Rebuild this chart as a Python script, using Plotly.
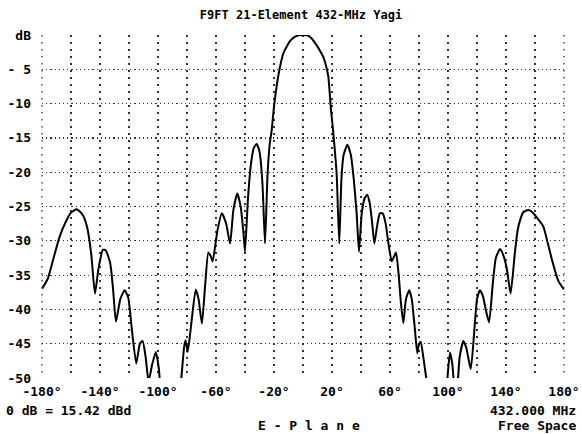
import plotly.graph_objects as go

# ---- data (angle in degrees, relative gain in dB) ----
angles = [
    -180, -176, -172, -168, -164, -160, -156, -152, -149, -146, -143.5, -141, -138, -136,
    -133, -131, -129, -126, -123, -120.5, -118, -115, -112.5, -110.6, -108.5, -106.5, -104,
    -101.5, -99.5, -98, -90, -85, -83.7, -82, -81, -79.5, -77, -74, -72, -69.7, -67.5,
    -65.3, -63.5, -62.3, -59, -56, -53, -50.3, -48, -45.3, -43, -41, -40, -38, -36, -34,
    -32, -30, -28, -26.2, -24.5, -23, -21.6, -20, -18, -16.3, -13.6, -11, -9, -6, -3, 0,
    3, 6, 9.4, 12, 14, 16, 17.5, 19.1, 20.9, 23.2, 25, 26.5, 28, 30.6, 33, 35, 37, 38.6,
    40.5, 42.5, 44.3, 46, 47.5, 49.2, 51, 53, 55, 57, 59, 61.2, 64.1, 66, 67.5, 69.2, 71,
    73.3, 75, 77, 78.8, 80, 81.2, 83, 85.3, 90, 98, 99.8, 101.4, 103, 104.8, 106.5, 108,
    110.6, 112.5, 115.7, 118, 120, 122, 124, 126, 128.3, 131, 133, 135.9, 138, 140.5,
    143.2, 146, 148, 150, 152, 155.4, 158, 162, 165.7, 169, 172, 176, 180,
]
gain_db = [
    -37.0, -35.5, -32.5, -29.5, -27.4, -25.9, -25.4, -26.2, -27.9, -32.0, -37.7, -34.0, -31.3, -31.4,
    -33.2, -37.0, -41.8, -38.5, -37.2, -38.3, -43.0, -47.9, -45.0, -44.6, -47.0, -50.5, -48.0,
    -46.2, -48.5, -52.0, -60.0, -52.0, -49.5, -45.5, -44.5, -46.2, -42.0, -37.1, -38.5, -42.1, -36.5,
    -31.7, -32.3, -33.0, -28.5, -26.0, -27.5, -30.4, -25.5, -23.1, -25.0, -29.0, -31.6, -24.0, -19.0, -16.5,
    -15.9, -17.0, -21.5, -30.4, -20.5, -16.0, -13.9, -10.4, -7.2, -5.1, -2.7, -1.6, -0.9, -0.3, -0.05, 0.0,
    -0.05, -0.5, -1.5, -2.4, -3.2, -4.6, -6.1, -10.4, -14.3, -20.2, -30.4, -21.0, -17.5, -16.0, -17.5, -21.0, -26.0, -31.6,
    -26.0, -23.8, -23.3, -24.5, -27.0, -30.4, -28.0, -26.0, -26.0, -27.5, -30.5, -33.0, -31.7, -35.0, -39.0, -42.0, -38.5,
    -37.2, -38.5, -42.5, -46.4, -45.0, -44.7, -47.0, -50.5, -58.0, -56.0, -49.5, -46.3, -48.0, -52.0, -51.0, -47.0,
    -44.6, -45.5, -48.7, -43.5, -38.5, -37.2, -38.0, -40.0, -41.9, -36.0, -32.5, -31.2, -32.0, -34.0,
    -37.7, -32.0, -28.5, -26.8, -25.8, -25.5, -25.8, -26.8, -27.9, -30.5, -33.0, -35.8, -37.1,
]

x_grid_vals = list(range(-180, 181, 20))
x_tick_labels = ["-180°", "", "-140°", "", "-100°", "", "-60°", "", "-20°", "",
                 "20°", "", "60°", "", "100°", "", "140°", "", "180°"]
y_grid_vals = list(range(0, -51, -5))
y_tick_labels = ["dB", "- 5", "-10", "-15", "-20", "-25", "-30", "-35", "-40", "-45", "-50"]

title_text = "F9FT 21-Element 432-MHz Yagi"
ref_text = "0 dB = 15.42 dBd"
freq_text = "432.000 MHz"
plane_text = "E - P l a n e"
env_text = "Free Space"

FONT = dict(family="DejaVu Sans Mono", size=13, color="black", weight="bold")
VGRID = dict(color="#333", width=1.3, dash="1.5px,5.5px")

fig = go.Figure()
fig.add_trace(go.Scatter(
    x=angles, y=gain_db, mode="lines",
    line=dict(color="black", width=2, shape="spline", smoothing=0.5),
    hoverinfo="skip", showlegend=False,
))

fig.update_layout(
    width=582, height=434,
    margin=dict(l=42, r=18, t=35, b=56, autoexpand=False),
    paper_bgcolor="white", plot_bgcolor="white",
    title=dict(text=title_text, x=301 / 582, xanchor="center",
               y=1 - 15 / 434, yanchor="middle", automargin=False,
               font=dict(family="DejaVu Sans Mono", size=12, color="black", weight="bold")),
    showlegend=False,
)
fig.update_xaxes(
    range=[-180, 180], tickmode="array", tickvals=x_grid_vals, ticktext=x_tick_labels,
    showgrid=True, gridcolor=VGRID["color"], gridwidth=VGRID["width"], griddash=VGRID["dash"],
    zeroline=False, showline=False, ticks="", tickfont=FONT, ticklabelstandoff=4,
    automargin=False, fixedrange=True,
)
fig.update_yaxes(
    range=[-50, 0], tickmode="array", tickvals=y_grid_vals, ticktext=y_tick_labels,
    showgrid=True, gridcolor="#333", gridwidth=1.2, griddash="1.2px,3px",
    zeroline=False, showline=False, ticks="", tickfont=FONT, ticklabelstandoff=10,
    automargin=False, fixedrange=True,
)

# border grid lines at the two ends of the angle axis (plotly skips grid lines on the frame)
for xe in (0, 1):
    fig.add_shape(type="line", xref="paper", yref="y", x0=xe, x1=xe, y0=0, y1=-50,
                  line=VGRID, layer="above")

W, H = 522.0, 343.0  # plot area size in px
def px_x(px):
    return (px - 42) / W
def px_y(py):
    return (378 - py) / H

fig.add_annotation(text=ref_text, xref="paper", yref="paper", x=px_x(4), y=px_y(411),
                   xanchor="left", yanchor="middle", showarrow=False, font=FONT)
fig.add_annotation(text=freq_text, xref="paper", yref="paper", x=px_x(578), y=px_y(411),
                   xanchor="right", yanchor="middle", showarrow=False, font=FONT)
fig.add_annotation(text=env_text, xref="paper", yref="paper", x=px_x(578), y=px_y(425),
                   xanchor="right", yanchor="middle", showarrow=False, font=FONT)
fig.add_annotation(text=plane_text, xref="paper", yref="paper", x=px_x(309), y=px_y(425),
                   xanchor="center", yanchor="middle", showarrow=False, font=FONT)

fig.write_html(
    "out.html",
    config={"displayModeBar": False, "staticPlot": True},
    post_script="document.body.style.margin='0';document.body.style.padding='0';"
                "document.body.style.overflow='hidden';",
)
